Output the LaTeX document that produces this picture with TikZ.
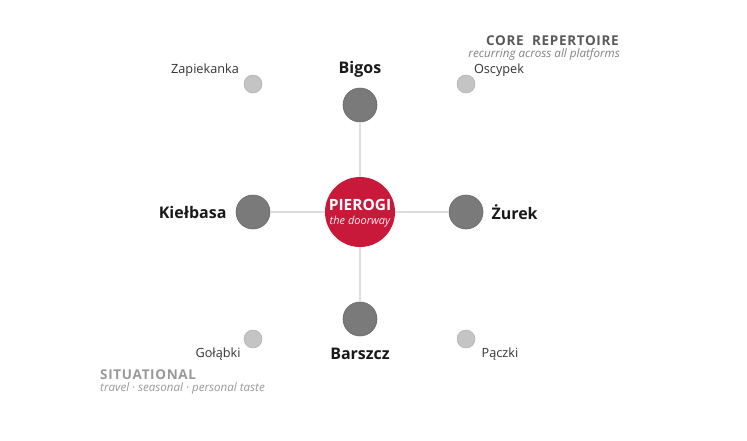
\documentclass[tikz,border=0pt]{standalone}
\usepackage{fontspec}
\setmainfont{Open Sans}
\definecolor{pred}{HTML}{C8193A}
\definecolor{big}{HTML}{7A7A7A}
\definecolor{small}{HTML}{C4C4C4}
\definecolor{spoke}{HTML}{DDDDDD}
\begin{document}
\begin{tikzpicture}[x=1pt,y=-1pt,
  bigdot/.style={circle,fill=big,draw=big!85!black,line width=0.6pt,minimum size=34pt,inner sep=0pt},
  smalldot/.style={circle,fill=small,draw=small!90!black,line width=0.5pt,minimum size=18pt,inner sep=0pt},
  core/.style={circle,fill=pred,minimum size=70pt,inner sep=0pt},
  spokeline/.style={draw=spoke,line width=1.2pt},
  mainlbl/.style={font=\fontsize{16}{18}\selectfont\bfseries,text=black!90},
  sidelbl/.style={font=\fontsize{12.7}{14}\selectfont,text=black!80},
  headlbl/.style={font=\fontsize{13.5}{15}\selectfont\bfseries\addfontfeature{LetterSpace=5},inner sep=0pt},
  sublbl/.style={font=\fontsize{11.6}{13}\selectfont\itshape,inner sep=0pt}]
\useasboundingbox (0,0) rectangle (747,440);
\node[core] (c) at (360,212) {};
\node[bigdot] (top) at (360,105) {};
\node[bigdot] (left) at (253,212) {};
\node[bigdot] (right) at (466,212) {};
\node[bigdot] (bot) at (360,319) {};
\draw[spokeline] (c) -- (top);
\draw[spokeline] (c) -- (left);
\draw[spokeline] (c) -- (right);
\draw[spokeline] (c) -- (bot);
\node[text=white,font=\fontsize{15.5}{18}\selectfont\bfseries] (pt) at (360,205) {PIEROGI};
\node[text=white!92!pred,font=\fontsize{11}{13}\selectfont\itshape] (pd) at (360,222) {the doorway};
\node[smalldot] (za) at (253,84) {};
\node[smalldot] (os) at (466,84) {};
\node[smalldot] (go) at (253,339) {};
\node[smalldot] (pa) at (466,339) {};
\node[mainlbl] (lbig) at (360,69) {Bigos};
\node[mainlbl,anchor=east] (lkie) at (230,212) {Kiełbasa};
\node[mainlbl,anchor=west] (lzur) at (488,212) {Żurek};
\node[mainlbl] (lbar) at (360,354) {Barszcz};
\node[sidelbl] (lza) at (205,70) {Zapiekanka};
\node[sidelbl] (los) at (499,70) {Oscypek};
\node[sidelbl] (lgo) at (218,354) {Gołąbki};
\node[sidelbl] (lpa) at (500,354) {Pączki};
\node[headlbl,text=black!65,anchor=east] (core) at (619,41) {CORE\ \ REPERTOIRE};
\node[sublbl,text=black!50,anchor=east] (coresub) at (620,54) {recurring across all platforms};
\node[headlbl,text=black!40,anchor=west] (sit) at (100,375) {SITUATIONAL};
\node[sublbl,text=black!40,anchor=west] (sitsub) at (100,388) {travel · seasonal · personal taste};
\end{tikzpicture}
\end{document}
